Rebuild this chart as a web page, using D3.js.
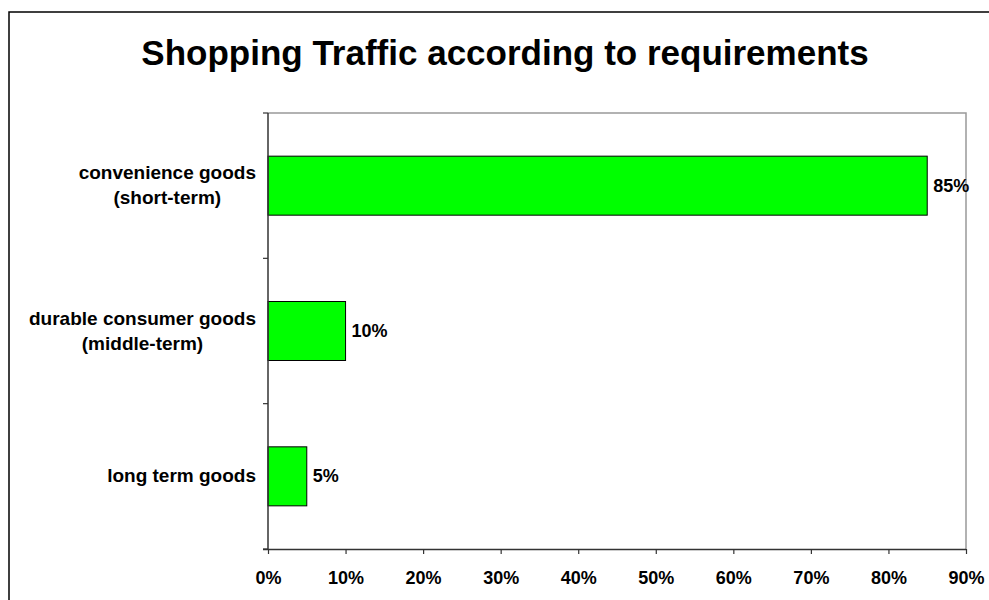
<!DOCTYPE html>
<html>
<head>
<meta charset="utf-8">
<script src="https://cdn.jsdelivr.net/npm/d3@7"></script>
<style>
  body { margin: 0; background: #fff; }
  svg text { font-family: "Liberation Sans", Arial, sans-serif; font-weight: bold; fill: #000; }
</style>
</head>
<body>
<svg id="chart" width="989" height="600"></svg>
<script>
// chart data
const categories = [
    ["convenience goods", "(short-term)"],
    ["durable consumer goods", "(middle-term)"],
    ["long term goods"]
];
const values = [0.85, 0.10, 0.05];
const xTicks = [0, 0.1, 0.2, 0.3, 0.4, 0.5, 0.6, 0.7, 0.8, 0.9];
const title = "Shopping Traffic according to requirements";

const svg = d3.select("#chart");
const plot = { left: 268, top: 113, right: 966, bottom: 549 };

// outer frame
svg.append("rect")
    .attr("x", 9).attr("y", 12)
    .attr("width", 1000).attr("height", 1000)
    .attr("fill", "none").attr("stroke", "#000").attr("stroke-width", 1.5);

svg.append("text")
    .attr("x", 505).attr("y", 65)
    .attr("text-anchor", "middle")
    .style("font-size", "35px")
    .text(title);

const x = d3.scaleLinear().domain([0, 0.9]).range([plot.left, plot.right]);
const y = d3.scaleBand()
    .domain(d3.range(categories.length))
    .range([plot.top, plot.bottom])
    .paddingInner(0.594).paddingOuter(0.297);

// plot border (top and right, grey)
svg.append("path")
    .attr("d", `M${plot.left},${plot.top}H${plot.right}V${plot.bottom}`)
    .attr("fill", "none").attr("stroke", "#999").attr("stroke-width", 1.5);

// bars
svg.append("g").selectAll("rect")
    .data(values)
    .join("rect")
    .attr("x", x(0))
    .attr("y", (d, i) => y(i))
    .attr("width", d => x(d) - x(0))
    .attr("height", y.bandwidth())
    .attr("fill", "#00ff00")
    .attr("stroke", "#000").attr("stroke-width", 1);

// value labels
svg.append("g").selectAll("text")
    .data(values)
    .join("text")
    .attr("x", d => x(d) + 6)
    .attr("y", (d, i) => y(i) + y.bandwidth() / 2 + 6)
    .style("font-size", "18px")
    .text(d => d3.format(".0%")(d));

// x axis
const xAxis = svg.append("g")
    .attr("transform", `translate(0,${plot.bottom})`)
    .call(d3.axisBottom(x).tickValues(xTicks).tickFormat(d3.format(".0%")).tickSize(5).tickSizeOuter(0));
xAxis.select(".domain").attr("stroke", "#333").attr("stroke-width", 1.5)
    .attr("d", `M${plot.left - 5},0.5H${plot.right}`);
xAxis.selectAll(".tick line").attr("stroke", "#333").attr("stroke-width", 1.2);
xAxis.selectAll(".tick text").attr("y", 22).style("font-size", "18px")
    .style("font-family", "'Liberation Sans', Arial, sans-serif").style("font-weight", "bold");

// y axis line and boundary ticks
const yAxis = svg.append("g");
yAxis.append("line")
    .attr("x1", plot.left).attr("x2", plot.left)
    .attr("y1", plot.top).attr("y2", plot.bottom)
    .attr("stroke", "#333").attr("stroke-width", 1.5);
yAxis.selectAll("line.tk")
    .data(d3.range(categories.length + 1))
    .join("line").attr("class", "tk")
    .attr("x1", plot.left - 5).attr("x2", plot.left)
    .attr("y1", i => plot.top + i * (plot.bottom - plot.top) / categories.length)
    .attr("y2", i => plot.top + i * (plot.bottom - plot.top) / categories.length)
    .attr("stroke", "#333").attr("stroke-width", 1.2);

// category labels: each block is centred on its own lines, right edge at the axis
const labelRight = 256;
const labels = svg.append("g").selectAll("text")
    .data(categories)
    .join("text")
    .attr("text-anchor", "middle")
    .style("font-size", "19px")
    .attr("transform", (d, i) => `translate(0,${y(i) + y.bandwidth() / 2})`);
labels.each(function(lines) {
    const t = d3.select(this);
    const lh = 25;
    const off = -(lines.length - 1) * lh / 2 + 6;
    lines.forEach((l, k) => {
        t.append("tspan").attr("y", off + k * lh).text(l);
    });
    const widest = d3.max(t.selectAll("tspan").nodes(), n => n.getComputedTextLength());
    t.selectAll("tspan").attr("x", labelRight - widest / 2);
});
</script>
</body>
</html>
